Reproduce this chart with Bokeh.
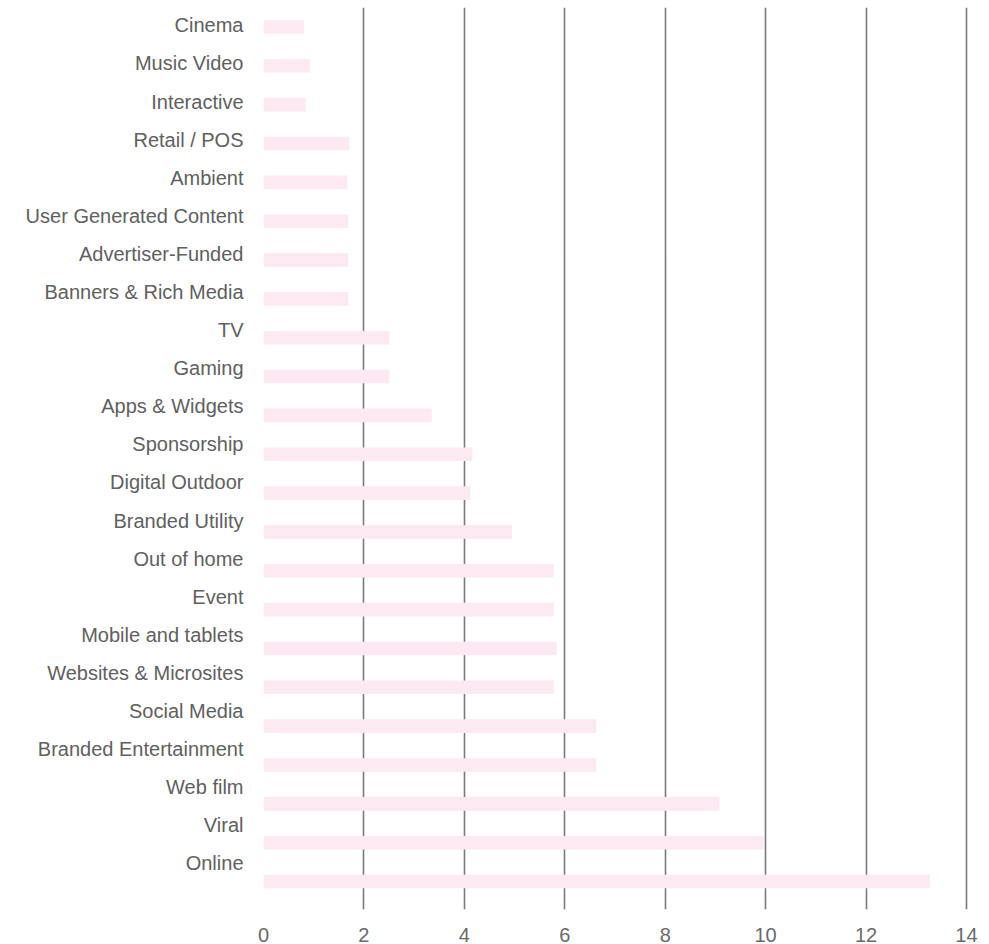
from bokeh.plotting import figure
from bokeh.models import Range1d, LinearAxis, FixedTicker, ColumnDataSource
from bokeh.embed import file_html
from bokeh.resources import INLINE

categories = ["Cinema", "Music Video", "Interactive", "Retail / POS", "Ambient",
              "User Generated Content", "Advertiser-Funded", "Banners & Rich Media",
              "TV", "Gaming", "Apps & Widgets", "Sponsorship", "Digital Outdoor",
              "Branded Utility", "Out of home", "Event", "Mobile and tablets",
              "Websites & Microsites", "Social Media", "Branded Entertainment",
              "Web film", "Viral", "Online"]
values = [0.81, 0.92, 0.84, 1.71, 1.67, 1.69, 1.69, 1.69, 2.51, 2.51, 3.35, 4.16,
          4.12, 4.95, 5.78, 5.78, 5.84, 5.78, 6.63, 6.63, 9.08, 9.96, 13.27]
x_ticks = [0, 2, 4, 6, 8, 10, 12, 14]

idx = list(range(len(categories)))
src = ColumnDataSource(dict(y=idx, v=values, cat=categories))

p = figure(width=989, height=944, output_backend="svg", toolbar_location=None,
           x_range=Range1d(0, 14.1), y_range=Range1d(22.72, -0.501),
           x_axis_location=None, y_axis_location=None,
           min_border_left=263, min_border_right=18, min_border_top=7,
           min_border_bottom=33)
p.outline_line_color = None

p.extra_y_ranges = {"labels": Range1d(23.21, -0.47)}

p.hbar(y="y", left=0, right="v", height=0.35, source=src,
       fill_color="#fce9f1", line_color=None)

yax = LinearAxis(y_range_name="labels",
                 ticker=FixedTicker(ticks=idx),
                 major_label_overrides={i: c for i, c in enumerate(categories)})
yax.axis_line_color = None
yax.major_tick_line_color = None
yax.minor_tick_line_color = None
yax.major_label_standoff = 14
yax.major_label_text_font = "Liberation Sans"
yax.major_label_text_font_size = "20px"
yax.major_label_text_color = "#606060"
p.add_layout(yax, "left")

xax = LinearAxis(ticker=FixedTicker(ticks=x_ticks))
xax.axis_line_color = None
xax.major_tick_line_color = None
xax.minor_tick_line_color = None
xax.major_label_standoff = 12
xax.major_label_text_font = "Liberation Sans"
xax.major_label_text_font_size = "20px"
xax.major_label_text_color = "#6a6a6a"
p.add_layout(xax, "below")

p.xgrid.ticker = FixedTicker(ticks=x_ticks)
p.xgrid.grid_line_color = "#7a7a7a"
p.xgrid.grid_line_width = 1.6
p.ygrid.grid_line_color = None

open("out.html", "w").write(file_html(p, INLINE))
